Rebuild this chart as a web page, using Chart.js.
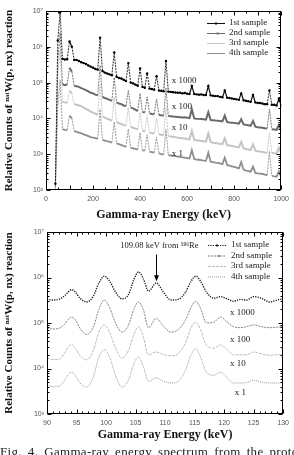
<!DOCTYPE html>
<html><head><meta charset="utf-8">
<script src="https://cdn.jsdelivr.net/npm/chart.js@4.4.0/dist/chart.umd.min.js"></script>
<style>
html,body{margin:0;padding:0;background:#fff;width:294px;height:455px;overflow:hidden;position:relative;}
.wrap{position:absolute;left:0;width:294px;}
#cap{position:absolute;left:0;top:444px;width:300px;font-family:"Liberation Serif","Times New Roman",serif;font-size:13px;white-space:nowrap;letter-spacing:0.3px;word-spacing:2.5px;color:#222;}
</style></head><body>
<div class="wrap" style="top:0;height:225px"><canvas id="c1" width="294" height="225"></canvas></div>
<div class="wrap" style="top:222px;height:222px"><canvas id="c2" width="294" height="222"></canvas></div>
<div id="cap">Fig. 4. Gamma-ray energy spectrum from the proton</div>
<script>
// ---------------- shared labels ----------------
const SAMPLE_LABELS = ['1st sample', '2nd sample', '3rd sample', '4th sample'];
const SCALE_LABELS = ['x 1000', 'x 100', 'x 10', 'x 1'];
const X_TITLE = 'Gamma-ray Energy (keV)';
const Y_TITLE = 'Relative Counts of \u207F\u1D43\u1D57W(p, nx) reaction';
const ARROW_TEXT = '109.08 keV from \u00B9\u2078\u2076Re';

// ---------------- top panel: full spectrum (keV, counts) ----------------
const WIDE_ENERGY = [40,50,60,70,80,90,100,110,120,130,
 140,150,160,170,180,190,200,210,220,230,
 240,250,260,270,280,290,300,310,320,330,
 340,350,360,370,380,390,400,410,420,430,
 440,450,460,470,480,490,500,510,520,530,
 540,550,560,570,580,590,600,610,620,630,
 640,650,660,670,680,690,700,710,720,730,
 740,750,760,770,780,790,800,810,820,830,
 840,850,860,870,880,890,900,910,920,930,
 940,950,960,970,980,990,1000];
const WIDE_S1 = [150,1.5e6,9.0e6,4.6e5,4.4e5,4.5e5,1.4e6,1.0e6,4.3e5,4.3e5,
 4.0e5,3.7e5,3.5e5,3.3e5,3.0e5,2.8e5,2.6e5,2.4e5,2.3e5,1.8e6,
 2.1e5,1.9e5,1.8e5,1.7e5,1.6e5,7.0e5,1.45e5,1.35e5,1.3e5,1.2e5,
 1.1e5,3.5e5,1.0e5,9.5e4,8.8e4,8.2e4,2.5e5,7.6e4,7.2e4,1.8e5,
 6.8e4,6.6e4,6.3e4,1.5e5,6.0e4,5.9e4,5.7e4,4.0e5,5.6e4,5.5e4,
 5.4e4,5.3e4,5.2e4,5.2e4,5.0e4,5.1e4,4.9e4,4.8e4,8.0e4,4.8e4,
 4.7e4,4.6e4,4.7e4,4.5e4,4.5e4,8.0e4,4.4e4,4.3e4,4.2e4,4.2e4,
 4.0e4,3.9e4,6.0e4,3.8e4,3.7e4,3.6e4,3.5e4,3.4e4,3.3e4,5.0e4,
 3.2e4,3.1e4,3.0e4,2.9e4,4.5e4,2.8e4,2.7e4,2.7e4,2.6e4,2.5e4,
 2.5e4,6.0e4,2.4e4,2.4e4,2.3e4,3.5e4,2.3e4];
const WIDE_S2 = [120,4.0e5,2.5e6,9.0e4,8.5e4,8.8e4,2.6e5,2.0e5,8.0e4,7.9e4,
 7.6e4,7.0e4,6.6e4,6.2e4,5.7e4,5.2e4,5.0e4,4.6e4,4.4e4,3.0e5,
 4.0e4,3.7e4,3.5e4,3.3e4,3.1e4,1.4e5,2.8e4,2.6e4,2.5e4,2.3e4,
 2.2e4,6.0e4,2.0e4,1.9e4,1.75e4,1.6e4,5.0e4,1.5e4,1.45e4,4.0e4,
 1.38e4,1.33e4,1.3e4,3.5e4,1.25e4,1.22e4,1.2e4,7.0e4,1.17e4,1.15e4,
 1.13e4,1.12e4,1.1e4,1.08e4,1.06e4,1.07e4,1.05e4,1.02e4,1.8e4,1.0e4,
 9.8e3,9.7e3,9.6e3,9.4e3,9.2e3,1.5e4,9.0e3,8.9e3,8.7e3,8.6e3,
 8.4e3,8.2e3,1.2e4,7.9e3,7.7e3,7.6e3,7.5e3,7.3e3,7.1e3,9.5e3,
 6.8e3,6.6e3,6.4e3,6.2e3,8.5e3,5.9e3,5.7e3,5.6e3,5.5e3,5.3e3,
 5.2e3,1.8e4,5.0e3,4.9e3,4.8e3,6.5e3,4.7e3];
const WIDE_S3 = [110,1.5e5,8.0e5,2.9e4,2.8e4,2.7e4,6.0e4,5.0e4,2.5e4,2.4e4,
 2.3e4,2.2e4,2.0e4,1.85e4,1.7e4,1.55e4,1.45e4,1.35e4,1.25e4,9.0e4,
 1.12e4,1.05e4,9.8e3,9.2e3,8.6e3,4.0e4,7.8e3,7.3e3,7.0e3,6.6e3,
 6.3e3,2.0e4,5.8e3,5.5e3,5.2e3,4.9e3,1.5e4,4.5e3,4.3e3,1.2e4,
 4.0e3,3.9e3,3.8e3,1.0e4,3.6e3,3.5e3,3.4e3,2.0e4,3.2e3,3.1e3,
 3.05e3,3.0e3,2.9e3,2.85e3,2.8e3,2.75e3,2.65e3,2.6e3,4.5e3,2.5e3,
 2.45e3,2.4e3,2.35e3,2.3e3,2.25e3,3.8e3,2.2e3,2.1e3,2.05e3,2.0e3,
 1.95e3,1.9e3,2.8e3,1.8e3,1.75e3,1.7e3,1.65e3,1.6e3,1.55e3,2.2e3,
 1.45e3,1.4e3,1.35e3,1.3e3,1.9e3,1.25e3,1.2e3,1.18e3,1.15e3,1.12e3,
 1.1e3,4.0e3,1.08e3,1.06e3,1.05e3,1.5e3,1.05e3];
const WIDE_S4 = [105,2.0e4,1.2e5,5.0e3,4.8e3,4.7e3,1.2e4,1.0e4,4.4e3,4.2e3,
 4.0e3,3.8e3,3.6e3,3.4e3,3.2e3,3.0e3,2.9e3,2.8e3,2.7e3,1.8e4,
 2.5e3,2.4e3,2.3e3,2.2e3,2.1e3,8.0e3,2.0e3,1.9e3,1.8e3,1.7e3,
 1.6e3,5.0e3,1.5e3,1.45e3,1.4e3,1.35e3,4.0e3,1.28e3,1.25e3,3.5e3,
 1.18e3,1.15e3,1.1e3,3.0e3,1.05e3,1.0e3,980,5.0e3,940,920,
 900,880,860,840,820,800,780,760,1.3e3,730,
 710,700,680,660,650,1.1e3,620,600,580,570,
 550,530,800,500,480,460,440,420,400,600,
 370,350,340,320,450,300,290,285,280,270,
 260,1.2e3,250,240,235,330,225];
const WIDE_X_TICKS = [0, 200, 400, 600, 800, 1000];
const WIDE_Y_TICKS = [1e2, 1e3, 1e4, 1e5, 1e6, 1e7];

// ---------------- bottom panel: 90-130 keV zoom (keV, counts) ----------------
const NARROW_ENERGY = [90,91,92,93,93.6,94.2,94.8,95.6,96.7,97.8,
 98.8,99.7,100.6,101.6,102.7,103.8,104.7,105.5,106.3,107.2,
 108.5,109.8,111,112.2,113.4,114.4,115.2,116,117,118.3,
 119.4,120.5,121.6,122.7,123.8,125,126.3,127.7,129,130];
const NARROW_S1 = [3.3e5,3.2e5,3.3e5,4.0e5,4.8e5,5.4e5,4.8e5,3.5e5,2.9e5,3.8e5,
 7.6e5,1.07e6,8.3e5,4.8e5,3.4e5,4.2e5,8.9e5,1.32e6,9.5e5,5.0e5,
 7.6e5,4.6e5,3.2e5,3.3e5,4.6e5,8.3e5,1.07e6,8.3e5,4.8e5,3.5e5,
 3.8e5,3.4e5,3.0e5,3.3e5,3.2e5,3.8e5,3.5e5,2.9e5,3.2e5,3.4e5];
const NARROW_S2 = [7.6e4,7.4e4,7.6e4,9.5e4,1.2e5,1.35e5,1.17e5,7.6e4,5.6e4,7.9e4,
 2.0e5,3.2e5,2.2e5,1.0e5,6.3e4,8.9e4,2.0e5,2.9e5,2.0e5,7.9e4,
 1.26e5,8.3e4,6.3e4,7.1e4,1.12e5,2.2e5,3.0e5,2.1e5,1.0e5,1.05e5,
 1.35e5,1.05e5,8.3e4,7.9e4,8.3e4,9.1e4,8.3e4,7.9e4,8.1e4,8.3e4];
const NARROW_S3 = [1.7e4,1.58e4,1.58e4,2.2e4,3.0e4,3.3e4,2.8e4,1.9e4,1.55e4,2.4e4,
 6.3e4,9.1e4,6.3e4,2.8e4,1.7e4,2.5e4,5.6e4,8.3e4,5.0e4,2.0e4,
 2.3e4,2.0e4,1.9e4,2.1e4,3.5e4,7.9e4,1.05e5,7.1e4,3.2e4,2.8e4,
 3.3e4,2.6e4,2.0e4,2.0e4,2.0e4,2.3e4,2.1e4,1.95e4,2.0e4,2.0e4];
const NARROW_S4 = [4400,4000,4000,5600,7400,8300,7100,4800,3900,6300,
 1.78e4,2.6e4,1.78e4,7100,3900,5600,1.26e4,1.78e4,1.12e4,5200,
 6200,5200,4800,5200,8900,2.0e4,2.7e4,1.78e4,8300,7100,
 8300,6300,4800,4800,4900,5500,5000,4800,4800,4900];
const NARROW_X_TICKS = [90, 95, 100, 105, 110, 115, 120, 125, 130];
const NARROW_Y_TICKS = [1e3, 1e4, 1e5, 1e6, 1e7];

// ---------------- helpers ----------------
const SUP = {'0':'\u2070','1':'\u00B9','2':'\u00B2','3':'\u00B3','4':'\u2074','5':'\u2075','6':'\u2076','7':'\u2077','8':'\u2078','9':'\u2079'};
function powLabel(v){ const e = Math.round(Math.log10(v)); return '10' + String(e).split('').map(c => SUP[c]).join(''); }
const SERIF = '"Liberation Serif","Times New Roman",serif';
const TICK_FONT = {family:'"Liberation Sans",Arial,sans-serif', size:7};
const X_TITLE_FONT = {family:SERIF, size:12, weight:'bold'};
const Y_TITLE_FONT = {family:SERIF, size:11, weight:'bold'};

// steep (spike) segments are drawn thin and broken, as in the original plot
const steep = c => Math.abs(Math.log10(c.p1.parsed.y / c.p0.parsed.y)) > 0.3;
const SPIKE_SEGMENT = {
  borderWidth: c => steep(c) ? 0.9 : undefined,
  borderDash: c => steep(c) ? [2, 1] : undefined
};

function makeDatasets(xs, series, styles){
  return series.map((vals, i) => Object.assign({
    label: SAMPLE_LABELS[i],
    data: xs.map((x, j) => ({x: x, y: vals[j]}))
  }, styles[i]));
}

const framePlugin = {
  id: 'frameTicks',
  afterDatasetsDraw(chart, args, o){
    const ctx = chart.ctx, a = chart.chartArea, xs = chart.scales.x, ys = chart.scales.y;
    ctx.save();
    ctx.strokeStyle = '#000'; ctx.lineWidth = 1;
    const L = Math.round(a.left) + 0.5, T = Math.round(a.top) + 0.5, R = Math.round(a.right) - 0.5, B = Math.round(a.bottom) - 0.5;
    ctx.strokeRect(L, T, R - L, B - T);
    ctx.beginPath();
    const n = Math.round((o.xMax - o.xMin) / o.xMinor);
    const per = Math.round(o.xMajor / o.xMinor);
    for (let i = 0; i <= n; i++){
      const v = o.xMin + i * o.xMinor;
      const px = Math.round(xs.getPixelForValue(v)) + 0.5;
      const len = (i % per === 0) ? 4 : 2;
      ctx.moveTo(px, B); ctx.lineTo(px, B - len);
      ctx.moveTo(px, T); ctx.lineTo(px, T + len);
    }
    for (let e = o.yMinExp; e <= o.yMaxExp; e++){
      for (let k = 1; k <= 9; k++){
        const v = k * Math.pow(10, e);
        if (v > Math.pow(10, o.yMaxExp) * 1.0001) break;
        const py = Math.round(ys.getPixelForValue(v)) + 0.5;
        const len = k === 1 ? 4 : 2;
        ctx.moveTo(L, py); ctx.lineTo(L + len, py);
        ctx.moveTo(R, py); ctx.lineTo(R - len, py);
      }
    }
    ctx.stroke();
    ctx.restore();
  }
};

const legendPlugin = {
  id: 'sampleLegend',
  afterDraw(chart, args, o){
    const ctx = chart.ctx;
    ctx.save();
    ctx.font = o.font; ctx.textBaseline = 'middle';
    chart.data.datasets.forEach((ds, i) => {
      const y = o.y + i * o.rowH;
      ctx.strokeStyle = ds.borderColor; ctx.lineWidth = 1;
      ctx.setLineDash(ds.borderDash || []);
      ctx.beginPath(); ctx.moveTo(o.x, y + 0.5); ctx.lineTo(o.x + o.len, y + 0.5); ctx.stroke();
      ctx.setLineDash([]);
      if (o.markers[i]){
        ctx.fillStyle = ds.borderColor;
        ctx.fillRect(o.x + o.len * o.markers[i] - 1, y - 0.5, 2, 2);
      }
      ctx.fillStyle = '#222';
      ctx.fillText(ds.label, o.x + o.len + o.gap, y);
    });
    ctx.restore();
  }
};

const notePlugin = {
  id: 'notes',
  afterDraw(chart, args, o){
    const ctx = chart.ctx, xs = chart.scales.x, ys = chart.scales.y;
    ctx.save();
    ctx.font = o.font; ctx.fillStyle = '#222'; ctx.textBaseline = 'middle';
    (o.labels || []).forEach(l => ctx.fillText(l.text, xs.getPixelForValue(l.x), ys.getPixelForValue(l.y)));
    if (o.arrow){
      const ar = o.arrow;
      ctx.font = o.arrowFont;
      ctx.fillText(ar.text, xs.getPixelForValue(ar.textX), ys.getPixelForValue(ar.textY));
      const px = Math.round(xs.getPixelForValue(ar.x)) + 0.5;
      const y0 = ys.getPixelForValue(ar.from), y1 = ys.getPixelForValue(ar.to);
      ctx.strokeStyle = '#000'; ctx.lineWidth = 1;
      ctx.beginPath(); ctx.moveTo(px, y0); ctx.lineTo(px, y1 - 4); ctx.stroke();
      ctx.fillStyle = '#000';
      ctx.beginPath(); ctx.moveTo(px - 2.5, y1 - 6); ctx.lineTo(px + 2.5, y1 - 6); ctx.lineTo(px, y1); ctx.closePath(); ctx.fill();
    }
    ctx.restore();
  }
};

function makeChart(id, xs, series, styles, cfg){
  return new Chart(document.getElementById(id), {
    type: 'line',
    data: {datasets: makeDatasets(xs, series, styles)},
    plugins: [framePlugin, legendPlugin, notePlugin],
    options: {
      responsive: false, animation: false, devicePixelRatio: 1,
      layout: {padding: {top: cfg.padTop, right: 7, left: 0, bottom: 0}},
      elements: {point: {radius: 0}},
      plugins: {
        legend: {display: false}, tooltip: {enabled: false},
        frameTicks: cfg.frame, sampleLegend: cfg.legend, notes: cfg.notes
      },
      scales: {
        x: {
          type: 'linear', min: cfg.xMin, max: cfg.xMax,
          grid: {display: false, drawTicks: false}, border: {display: false},
          afterBuildTicks: s => { s.ticks = cfg.xTicks.map(v => ({value: v})); },
          afterFit: s => { s.height = cfg.xHeight; },
          ticks: {font: TICK_FONT, color: '#555', padding: cfg.xTickPad, maxRotation: 0, autoSkip: false, callback: v => String(v)},
          title: {display: true, text: X_TITLE, font: X_TITLE_FONT, color: '#111', padding: {top: 0, bottom: cfg.xTitlePad}}
        },
        y: {
          type: 'logarithmic', min: cfg.yMin, max: cfg.yMax,
          grid: {display: false, drawTicks: false}, border: {display: false},
          afterBuildTicks: s => { s.ticks = cfg.yTicks.map(v => ({value: v})); },
          afterFit: s => { s.width = cfg.yWidth; },
          ticks: {font: TICK_FONT, color: '#555', padding: 3, autoSkip: false, callback: v => powLabel(v)},
          title: {display: true, text: Y_TITLE, font: Y_TITLE_FONT, color: '#111', padding: {top: 3, bottom: 0}}
        }
      }
    }
  });
}

// ---------------- top chart ----------------
makeChart('c1', WIDE_ENERGY, [WIDE_S1, WIDE_S2, WIDE_S3, WIDE_S4], [
  {borderColor: '#111', borderWidth: 1.2, pointRadius: 1.2, pointBackgroundColor: '#000', pointBorderWidth: 0, segment: SPIKE_SEGMENT},
  {borderColor: '#6a6a6a', borderWidth: 2, segment: SPIKE_SEGMENT},
  {borderColor: '#c4c4c4', borderWidth: 2, segment: SPIKE_SEGMENT},
  {borderColor: '#8e8e8e', borderWidth: 1.8, segment: SPIKE_SEGMENT}
], {
  padTop: 11, xHeight: 35, xTickPad: 5, xTitlePad: 3, yWidth: 46,
  xMin: 0, xMax: 1000, yMin: 1e2, yMax: 1e7,
  xTicks: WIDE_X_TICKS, yTicks: WIDE_Y_TICKS,
  frame: {xMin: 0, xMax: 1000, xMajor: 100, xMinor: 50, yMinExp: 2, yMaxExp: 7},
  legend: {x: 207, y: 23, rowH: 10, len: 18, gap: 4, font: '9px ' + SERIF, markers: [0.5, 0.6, 0, 0]},
  notes: {font: '9px ' + SERIF, labels: [
    {text: SCALE_LABELS[0], x: 535, y: 1.17e5},
    {text: SCALE_LABELS[1], x: 535, y: 2.1e4},
    {text: SCALE_LABELS[2], x: 535, y: 5.4e3},
    {text: SCALE_LABELS[3], x: 535, y: 1.07e3}
  ]}
});

// ---------------- bottom chart ----------------
makeChart('c2', NARROW_ENERGY, [NARROW_S1, NARROW_S2, NARROW_S3, NARROW_S4], [
  {borderColor: '#1a1a1a', borderWidth: 1.4, borderDash: [1.2, 1.2], cubicInterpolationMode: 'monotone'},
  {borderColor: '#858585', borderWidth: 1, borderDash: [2, 1], cubicInterpolationMode: 'monotone'},
  {borderColor: '#bdbdbd', borderWidth: 1, borderDash: [3, 1], cubicInterpolationMode: 'monotone'},
  {borderColor: '#9a9a9a', borderWidth: 1, borderDash: [1, 1], cubicInterpolationMode: 'monotone'}
], {
  padTop: 10, xHeight: 30, xTickPad: 5, xTitlePad: 2, yWidth: 47,
  xMin: 90, xMax: 130, yMin: 1e3, yMax: 1e7,
  xTicks: NARROW_X_TICKS, yTicks: NARROW_Y_TICKS,
  frame: {xMin: 90, xMax: 130, xMajor: 5, xMinor: 1, yMinExp: 3, yMaxExp: 7},
  legend: {x: 208, y: 23, rowH: 10.5, len: 18, gap: 5, font: '9px ' + SERIF, markers: [0.5, 0.6, 0, 0]},
  notes: {font: '9px ' + SERIF, arrowFont: '8.5px ' + SERIF, labels: [
    {text: SCALE_LABELS[0], x: 121, y: 1.66e5},
    {text: SCALE_LABELS[1], x: 121, y: 4.3e4},
    {text: SCALE_LABELS[2], x: 121, y: 1.3e4},
    {text: SCALE_LABELS[3], x: 121.8, y: 3.0e3}
  ], arrow: {text: ARROW_TEXT, textX: 102.4, textY: 4.9e6, x: 108.5, from: 3.2e6, to: 8.3e5}}
});
</script>
</body></html>
